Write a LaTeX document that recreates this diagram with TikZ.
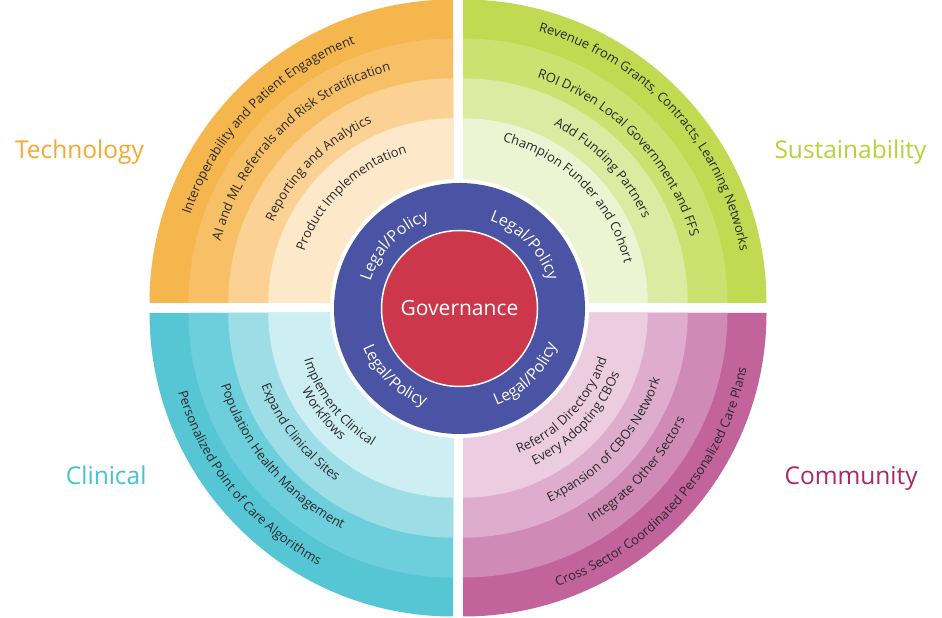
\documentclass[tikz,border=0pt]{standalone}
\usepackage{fontspec}
\setmainfont{Open Sans}
\usetikzlibrary{positioning,decorations.text}

\definecolor{techA}{HTML}{F6B64E}
\definecolor{techB}{HTML}{F8C066}
\definecolor{techC}{HTML}{FBD294}
\definecolor{techD}{HTML}{FDE9CA}
\definecolor{sustA}{HTML}{C1DA52}
\definecolor{sustB}{HTML}{CCE16F}
\definecolor{sustC}{HTML}{DCEAA2}
\definecolor{sustD}{HTML}{EDF4D3}
\definecolor{clinA}{HTML}{56C6D5}
\definecolor{clinB}{HTML}{6DCFDC}
\definecolor{clinC}{HTML}{9DDEE6}
\definecolor{clinD}{HTML}{CDEEF3}
\definecolor{commA}{HTML}{C2639C}
\definecolor{commB}{HTML}{D08AB6}
\definecolor{commC}{HTML}{DEADCD}
\definecolor{commD}{HTML}{EBCCE1}
\definecolor{legalblue}{HTML}{4A53A4}
\definecolor{govred}{HTML}{CC374C}
\definecolor{bandgray}{HTML}{2A2A2A}
\definecolor{techlabel}{HTML}{F5A82E}
\definecolor{sustlabel}{HTML}{B6D23A}
\definecolor{clinlabel}{HTML}{45C1D0}
\definecolor{commlabel}{HTML}{A8286A}

\newcommand{\bandfont}{\fontsize{13}{16}\selectfont\color{bandgray}}
\newcommand{\legalfont}{\fontsize{16}{19}\selectfont\color{white}}

% text over the top of a centre (reads clockwise)
\newcommand{\arcup}[5]{%
  \path[decorate,decoration={text along path,text align=center,text={|#4|#5}}]
    ([shift={(#3+80:#2pt)}]#1) arc[start angle=#3+80,end angle=#3-80,radius=#2pt];}
% text under a centre (reads anticlockwise)
\newcommand{\arcdown}[5]{%
  \path[decorate,decoration={text along path,text align=center,text={|#4|#5}}]
    ([shift={(#3-80:#2pt)}]#1) arc[start angle=#3-80,end angle=#3+80,radius=#2pt];}

\begin{document}
\begin{tikzpicture}[
  x=1pt,y=1pt,
  disc/.style={circle,inner sep=0pt},
  label/.style={font=\fontsize{24.5}{30}\selectfont}
]

\useasboundingbox (0,0) rectangle (942,618);

\coordinate (tl) at (453,315);
\coordinate (tr) at (463,315);
\coordinate (bl) at (453,305);
\coordinate (br) at (463,305);

% quadrants
\foreach \q/\c/\a in {tech/tl/90,sust/tr/0,clin/bl/180,comm/br/270}
  \foreach \r/\k in {303.5/A,264.5/B,224.7/C,184.7/D}
    \fill[\q\k] (\c) -- ++(\a:\r pt) arc[start angle=\a,delta angle=90,radius=\r pt] -- cycle;

% centre
\node[disc,fill=white,minimum size=259pt] (ring) at (459.5,309.5) {};
\node[disc,fill=legalblue,minimum size=251pt] (legal) at (ring) {};
\node[disc,fill=govred,draw=white,line width=1.5pt,minimum size=156pt] (core) at (ring) {};
\node[text=white,font=\fontsize{21}{25}\selectfont] (gov) at (core) {Governance};

\arcup{core}{93}{136}{\legalfont}{Legal/Policy}
\arcup{core}{93}{44}{\legalfont}{Legal/Policy}
\arcdown{core}{104}{226}{\legalfont}{Legal/Policy}
\arcdown{core}{104}{315}{\legalfont}{Legal/Policy}

% technology
\arcup{tl}{277}{136}{\bandfont}{Interoperability and Patient Engagement}
\arcup{tl}{240.5}{135}{\bandfont}{AI and ML Referrals and Risk Stratification}
\arcup{tl}{197}{135}{\bandfont}{Reporting and Analytics}
\arcup{tl}{157}{134}{\bandfont}{Product Implementation}

% sustainability
\arcup{tr}{282}{42.5}{\bandfont}{Revenue from Grants, Contracts, Learning Networks}
\arcup{tr}{237}{44}{\bandfont}{ROI Driven Local Government and FFS}
\arcup{tr}{199}{44}{\bandfont}{Add Funding Partners}
\arcup{tr}{166}{45}{\bandfont}{Champion Funder and Cohort}

% clinical
\arcdown{bl}{286}{219}{\bandfont}{Personalized Point of Care Algorithms}
\arcdown{bl}{243}{220}{\bandfont}{Population Health Management}
\arcdown{bl}{205}{218}{\bandfont}{Expand Clinical Sites}
\arcdown{bl}{156}{218}{\bandfont}{Implement Clinical}
\arcdown{bl}{170}{218}{\bandfont}{Workflows}

% community
\arcdown{br}{289}{319}{\bandfont}{Cross Sector Coordinated Personalized Care Plans}
\arcdown{br}{246}{318}{\bandfont}{Integrate Other Sectors}
\arcdown{br}{208}{318}{\bandfont}{Expansion of CBOs Network}
\arcdown{br}{151}{317}{\bandfont}{Referral Directory and}
\arcdown{br}{168}{317}{\bandfont}{Every Adopting CBOs}

% labels
\node[label,text=techlabel,anchor=base east] (tech) at (147.5,459) {Technology};
\node[label,text=sustlabel,anchor=base west] (sust) at (771,459) {Sustainability};
\node[label,text=clinlabel,anchor=base east] (clin) at (150,133) {Clinical};
\node[label,text=commlabel,anchor=base west] (comm) at (781,133) {Community};

\end{tikzpicture}
\end{document}
